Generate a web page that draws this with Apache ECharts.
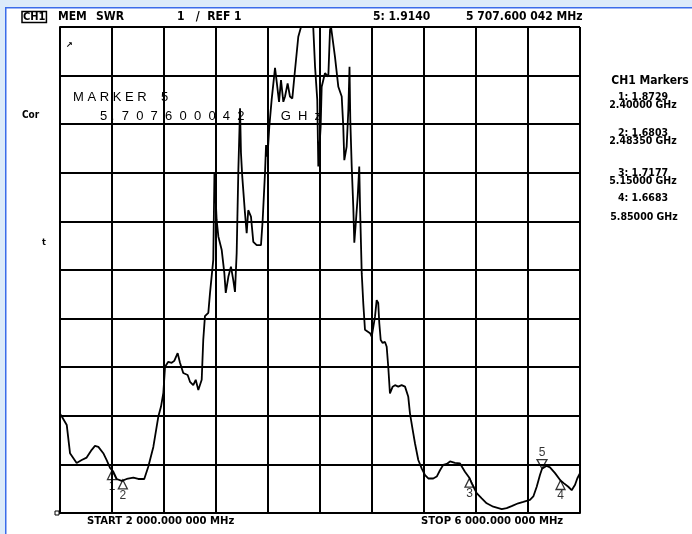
<!DOCTYPE html>
<html>
<head>
<meta charset="utf-8">
<script src="https://cdn.jsdelivr.net/npm/echarts@6/dist/echarts.min.js"></script>
<style>
  html, body { margin: 0; padding: 0; background: #dcebfa; }
  #chart { width: 692px; height: 534px; }
</style>
</head>
<body>
<div id="chart"></div>
<script>
// trace: frequency (GHz) and SWR
const freqGHz = [
  2.000, 2.015, 2.052, 2.077, 2.128, 2.167, 2.205, 2.244, 2.269, 2.295,
  2.333, 2.359, 2.385, 2.410, 2.436, 2.475, 2.513, 2.564, 2.602, 2.648,
  2.679, 2.718, 2.756, 2.777, 2.795, 2.808, 2.833, 2.859, 2.879, 2.905,
  2.923, 2.948, 2.982, 3.000, 3.025, 3.044, 3.064, 3.090, 3.102, 3.115,
  3.141, 3.154, 3.179, 3.188, 3.205, 3.218, 3.244, 3.264, 3.275, 3.295,
  3.315, 3.333, 3.346, 3.359, 3.372, 3.385, 3.392, 3.402, 3.423, 3.436,
  3.448, 3.469, 3.487, 3.513, 3.546, 3.559, 3.577, 3.585, 3.596, 3.610,
  3.628, 3.654, 3.667, 3.685, 3.700, 3.718, 3.731, 3.751, 3.769, 3.787,
  3.808, 3.833, 3.854, 3.948, 3.962, 3.979, 3.987, 3.995, 4.005, 4.013,
  4.038, 4.064, 4.077, 4.085, 4.100, 4.115, 4.141, 4.167, 4.179, 4.187,
  4.205, 4.218, 4.227, 4.233, 4.244, 4.256, 4.264, 4.277, 4.290, 4.302,
  4.308, 4.321, 4.333, 4.346, 4.385, 4.398, 4.423, 4.436, 4.448, 4.456,
  4.467, 4.482, 4.500, 4.513, 4.525, 4.538, 4.559, 4.577, 4.602, 4.628,
  4.654, 4.679, 4.692, 4.713, 4.731, 4.756, 4.782, 4.808, 4.833, 4.871,
  4.898, 4.923, 4.948, 4.975, 5.000, 5.038, 5.077, 5.115, 5.150, 5.167,
  5.205, 5.244, 5.282, 5.333, 5.398, 5.436, 5.474, 5.525, 5.564, 5.615,
  5.641, 5.667, 5.692, 5.708, 5.744, 5.769, 5.808, 5.850, 5.877, 5.910,
  5.936, 5.962, 5.979, 6.000
]
const swr = [
  3.04, 2.98, 2.81, 2.23, 2.03, 2.09, 2.14, 2.30, 2.38, 2.36,
  2.23, 2.09, 1.93, 1.85, 1.70, 1.66, 1.70, 1.73, 1.70, 1.70,
  1.95, 2.36, 2.98, 3.19, 3.47, 4.01, 4.11, 4.09, 4.13, 4.29,
  4.09, 3.88, 3.84, 3.70, 3.63, 3.74, 3.53, 3.74, 4.56, 5.05,
  5.12, 5.53, 6.21, 8.00, 7.03, 6.69, 6.41, 5.94, 5.53, 5.86,
  6.07, 5.79, 5.55, 6.35, 8.06, 9.33, 8.41, 7.92, 7.17, 6.76,
  7.23, 7.10, 6.58, 6.51, 6.51, 7.03, 8.00, 8.57, 8.33, 8.95,
  9.50, 10.16, 9.87, 9.46, 9.91, 9.46, 9.57, 9.84, 9.57, 9.53,
  10.12, 10.80, 11, 11, 10.18, 9.50, 8.13, 8.13, 8.95, 9.77,
  10.05, 9.98, 10.94, 11, 11, 10.39, 9.77, 9.57, 8.95, 8.26,
  8.54, 9.29, 10.18, 9.09, 8.13, 7.30, 6.56, 7.03, 7.51, 8.13,
  7.30, 5.93, 5.31, 4.77, 4.70, 4.63, 5.04, 5.38, 5.32, 4.91,
  4.56, 4.50, 4.52, 4.42, 4.01, 3.46, 3.60, 3.63, 3.60, 3.63,
  3.60, 3.39, 3.05, 2.71, 2.43, 2.09, 1.92, 1.78, 1.71, 1.71,
  1.75, 1.88, 1.99, 2.01, 2.06, 2.03, 2.02, 1.85, 1.72, 1.61,
  1.41, 1.30, 1.20, 1.13, 1.08, 1.10, 1.14, 1.20, 1.23, 1.27,
  1.34, 1.54, 1.78, 1.91, 1.97, 1.94, 1.82, 1.67, 1.61, 1.54,
  1.47, 1.58, 1.71, 1.82
]

// markers 1..4 (readouts on the right) and the active marker 5
const markerIds = ['1', '2', '3', '4']
const markerFreq = [2.4, 2.4835, 5.15, 5.85]
const markerSwr = [1.8729, 1.6803, 1.7177, 1.6683]
const activeId = '5'
const activeFreq = 5.7076
const activeSwr = 1.9140

// axis scale: 2..6 GHz, 0.4 GHz/div ; SWR 1..11, 1/div
const xMin = 2, xMax = 6, xStep = 0.4
const yMin = 1, yMax = 11, yStep = 1

const NARROW = '"Liberation Sans Narrow", "DejaVu Sans Condensed", sans-serif'
const PLAIN = '"Liberation Sans", Arial, sans-serif'

function txt(x, y, text, font, extra) {
  return {
    type: 'text', x: x, y: y, z: 10,
    style: Object.assign({ text: text, font: font, fill: '#000', textVerticalAlign: 'middle' }, extra || {})
  }
}

const chart = echarts.init(document.getElementById('chart'))

chart.setOption({
  animation: false,
  backgroundColor: '#dcebfa',
  grid: { left: 60, top: 27, width: 520, height: 486, show: false },
  xAxis: {
    type: 'value', min: xMin, max: xMax, interval: xStep,
    axisLine: { show: true, lineStyle: { color: '#000', width: 2 } },
    axisTick: { show: false },
    axisLabel: { show: false },
    splitLine: { show: true, lineStyle: { color: '#000', width: 2 } }
  },
  yAxis: {
    type: 'value', min: yMin, max: yMax, interval: yStep,
    axisLine: { show: true, lineStyle: { color: '#000', width: 2 } },
    axisTick: { show: false },
    axisLabel: { show: false },
    splitLine: { show: true, lineStyle: { color: '#000', width: 2 } }
  },
  graphic: [
    // white screen area with blue frame
    { type: 'rect', z: -10, shape: { x: 6, y: 8, width: 686, height: 526 }, style: { fill: '#fff' } },
    { type: 'rect', z: -9, shape: { x: 5, y: 7, width: 687, height: 1.5 }, style: { fill: '#3b6cea' } },
    { type: 'rect', z: -9, shape: { x: 5, y: 7, width: 1.5, height: 527 }, style: { fill: '#3b6cea' } },

    // header line
    txt(22, 17, 'CH1', 'bold 11px ' + NARROW, { borderColor: '#000', borderWidth: 1.5, padding: [0, 1] }),
    txt(58, 17, 'MEM', 'bold 12px ' + NARROW),
    txt(96, 17, 'SWR', 'bold 12px ' + NARROW),
    txt(177, 17, '1   /  REF 1', 'bold 12px ' + NARROW),
    txt(373, 17, '5: 1.9140', 'bold 12px ' + NARROW),
    txt(466, 17, '5 707.600 042 MHz', 'bold 12px ' + NARROW),

    // marker readout inside the graticule
    txt(73, 97, 'M A R K E R    5', '13px ' + PLAIN),
    txt(100, 116, '5 .  7  0  7  6  0  0  0  4  2          G  H  z', '13px ' + PLAIN),

    // left side annotations
    txt(66, 45, '\u2197', 'bold 8px ' + PLAIN),
    txt(22, 115, 'Cor', 'bold 10px ' + NARROW),
    txt(42, 243, 't', 'bold 9px ' + NARROW),
    { type: 'rect', z: 10, shape: { x: 55, y: 511, width: 4, height: 4 }, style: { fill: '#fff', stroke: '#000', lineWidth: 1 } },

    // right side marker list
    txt(650, 81, 'CH1 Markers', 'bold 12px ' + NARROW, { textAlign: 'center' }),
    txt(643, 97, '1: 1.8729', 'bold 10.5px ' + NARROW, { textAlign: 'center' }),
    txt(643, 105, '2.40000 GHz', 'bold 10.5px ' + NARROW, { textAlign: 'center' }),
    txt(643, 133, '2: 1.6803', 'bold 10.5px ' + NARROW, { textAlign: 'center' }),
    txt(643, 141, '2.48350 GHz', 'bold 10.5px ' + NARROW, { textAlign: 'center' }),
    txt(643, 173, '3: 1.7177', 'bold 10.5px ' + NARROW, { textAlign: 'center' }),
    txt(643, 181, '5.15000 GHz', 'bold 10.5px ' + NARROW, { textAlign: 'center' }),
    txt(643, 198, '4: 1.6683', 'bold 10.5px ' + NARROW, { textAlign: 'center' }),
    txt(644, 217, '5.85000 GHz', 'bold 10.5px ' + NARROW, { textAlign: 'center' }),

    // start / stop
    txt(87, 521, 'START 2 000.000 000 MHz', 'bold 11.2px ' + NARROW),
    txt(421, 521, 'STOP 6 000.000 000 MHz', 'bold 11.2px ' + NARROW)
  ],
  series: [
    {
      name: 'SWR',
      type: 'line',
      data: freqGHz.map((f, i) => [f, swr[i]]),
      showSymbol: false,
      clip: true,
      lineStyle: { color: '#000', width: 1.8 },
      z: 5
    },
    {
      name: 'Markers',
      type: 'scatter',
      data: markerFreq.map((f, i) => ({ value: [f, markerSwr[i]], name: markerIds[i] })),
      symbol: 'triangle',
      symbolSize: [9, 9],
      symbolOffset: [0, '50%'],
      itemStyle: { color: 'rgba(255,255,255,0)', borderColor: '#000', borderWidth: 1.3 },
      label: {
        show: true, position: 'bottom', distance: 0,
        formatter: p => p.name,
        color: '#000', fontSize: 12, fontFamily: PLAIN
      },
      z: 6
    },
    {
      name: 'Active marker',
      type: 'scatter',
      data: [{ value: [activeFreq, activeSwr], name: activeId }],
      symbol: 'triangle',
      symbolRotate: 180,
      symbolSize: [10, 9],
      symbolOffset: [0, '-50%'],
      itemStyle: { color: 'rgba(255,255,255,0)', borderColor: '#000', borderWidth: 1.3 },
      label: {
        show: true, position: 'top', distance: 0,
        formatter: p => p.name,
        color: '#000', fontSize: 12, fontFamily: PLAIN
      },
      z: 6
    }
  ]
})
</script>
</body>
</html>
